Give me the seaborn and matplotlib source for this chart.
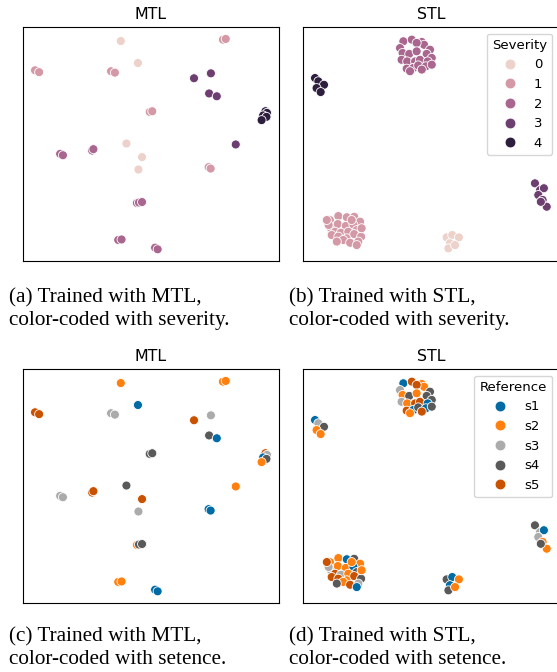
import numpy as np
import pandas as pd
import matplotlib
matplotlib.use("Agg")
import matplotlib.pyplot as plt
import seaborn as sns

plt.rcParams.update({"font.family": "DejaVu Sans", "font.size": 9.5})

# ---- MTL embedding (same points, two colourings) ----
mtl_x = [38.2, 78.1, 79.2, 44.9, 4.7, 6.3, 34.4, 35.9, 66.8, 73.4, 72.7, 75.7,
         49.5, 50.5, 94.7, 95.3, 93.8, 95.1, 93.2, 83.1, 40.4, 27.0, 27.5, 14.5,
         15.6, 46.5, 72.5, 73.3, 45.1, 44.5, 45.3, 46.5, 37.2, 38.5, 51.6, 52.6]
mtl_y = [94.0, 94.6, 94.9, 84.6, 81.5, 80.7, 81.1, 80.5, 78.1, 80.2, 71.6, 70.4,
         63.7, 64.0, 64.0, 63.3, 62.2, 61.6, 60.2, 49.8, 50.2, 47.2, 47.8, 45.8,
         45.2, 44.4, 40.1, 39.5, 39.1, 24.8, 25.0, 25.2, 9.0, 9.2, 5.7, 5.0]
mtl_sev = [0, 1, 1, 0, 1, 1, 1, 1, 3, 3, 3, 3,
           1, 1, 4, 4, 4, 4, 4, 3, 0, 2, 2, 2,
           2, 0, 1, 1, 0, 2, 2, 2, 2, 2, 2, 2]
mtl_ref = ["s2", "s2", "s2", "s1", "s5", "s5", "s3", "s3", "s5", "s3", "s4", "s1",
           "s4", "s4", "s5", "s3", "s1", "s4", "s2", "s2", "s4", "s5", "s5", "s3",
           "s3", "s5", "s1", "s1", "s3", "s2", "s4", "s4", "s2", "s2", "s1", "s1"]

# ---- STL embedding, per cluster ----
stl2_x = [39.2, 42.5, 46.4, 47.3, 37.9, 44.4, 49.6, 38.9, 41.5, 44.4, 48.3, 50.3,
          38.5, 40.7, 43.8, 45.7, 48.7, 40.5, 43.1, 45.0, 48.0, 50.3, 41.8, 46.4]
stl2_y = [93.9, 94.6, 93.6, 92.4, 91.0, 93.2, 90.3, 88.9, 88.5, 89.6, 88.5, 86.8,
          86.0, 85.3, 85.3, 86.0, 85.3, 82.2, 82.5, 83.6, 83.2, 83.9, 81.1, 81.8]
stl2_ref = ["s1", "s5", "s2", "s2", "s3", "s5", "s4", "s2", "s4", "s2", "s4", "s4",
            "s3", "s2", "s5", "s5", "s1", "s5", "s1", "s4", "s1", "s4", "s2", "s5"]

stl4_x = [4.7, 6.0, 8.2, 5.3, 6.9]
stl4_y = [78.2, 76.8, 75.3, 73.9, 72.2]
stl4_ref = ["s1", "s3", "s4", "s2", "s2"]

stl1_x = [10.5, 13.8, 17.1, 20.0, 22.3, 10.9, 13.6, 16.7, 19.7, 12.5, 14.8, 17.7,
          21.0, 11.2, 13.8, 17.1, 20.0, 22.7, 15.7, 18.4, 21.6, 13.2, 10.0, 22.9,
          19.0, 21.0, 9.3]
stl1_y = [17.5, 19.2, 18.7, 18.9, 16.8, 14.0, 15.8, 15.0, 15.4, 12.5, 12.1, 12.5,
          13.2, 11.1, 10.4, 9.7, 11.5, 10.4, 9.0, 7.8, 8.3, 8.3, 15.4, 14.0,
          17.5, 6.8, 17.5]
stl1_ref = ["s2", "s2", "s1", "s4", "s2", "s3", "s2", "s2", "s1", "s5", "s3", "s2",
            "s4", "s5", "s5", "s2", "s5", "s4", "s2", "s5", "s3", "s4", "s3", "s2",
            "s2", "s1", "s5"]

stl0_x = [56.1, 58.3, 60.9, 57.4, 56.8, 59.4]
stl0_y = [10.1, 11.1, 10.1, 7.6, 5.4, 6.8]
stl0_ref = ["s4", "s1", "s2", "s1", "s4", "s2"]

stl3_x = [90.6, 92.6, 94.1, 91.9, 93.6, 95.2, 92.9]
stl3_y = [33.2, 30.3, 31.1, 28.2, 26.1, 23.2, 25.3]
stl3_ref = ["s4", "s3", "s1", "s3", "s2", "s2", "s4"]

ref_levels = ["s1", "s2", "s3", "s4", "s5"]
ref_colors = ["#006BA4", "#FF800E", "#ABABAB", "#595959", "#C85200"]

mtl = pd.DataFrame({"x": mtl_x, "y": mtl_y, "Severity": mtl_sev, "Reference": mtl_ref})
parts = []
for sev, xs, ys, refs in [(2, stl2_x, stl2_y, stl2_ref), (4, stl4_x, stl4_y, stl4_ref),
                          (1, stl1_x, stl1_y, stl1_ref), (0, stl0_x, stl0_y, stl0_ref),
                          (3, stl3_x, stl3_y, stl3_ref)]:
    parts.append(pd.DataFrame({"x": xs, "y": ys, "Severity": sev, "Reference": refs}))
stl = pd.concat(parts, ignore_index=True)

fig = plt.figure(figsize=(5.57, 6.72), dpi=100)
W, H = 557, 672


def box(left, top, w=256, h=234):
    return [left / W, (H - top - h) / H, w / W, h / H]


ax_a = fig.add_axes(box(23, 27))
ax_b = fig.add_axes(box(303, 27))
ax_c = fig.add_axes(box(23, 369))
ax_d = fig.add_axes(box(303, 369))

kw = dict(x="x", y="y", s=42, linewidth=0.6, edgecolor="white")
sns.scatterplot(data=mtl, hue="Severity", hue_norm=(0, 4), legend=False, ax=ax_a, **kw)
sns.scatterplot(data=stl, hue="Severity", hue_norm=(0, 4), legend="full", ax=ax_b, **kw)
sns.scatterplot(data=mtl, hue="Reference", hue_order=ref_levels, palette=ref_colors,
                legend=False, ax=ax_c, **kw)
sns.scatterplot(data=stl, hue="Reference", hue_order=ref_levels, palette=ref_colors,
                legend="full", ax=ax_d, **kw)

for ax, title in [(ax_a, "MTL"), (ax_b, "STL"), (ax_c, "MTL"), (ax_d, "STL")]:
    ax.set_xlim(0, 100)
    ax.set_ylim(0, 100)
    ax.set_xticks([])
    ax.set_yticks([])
    ax.set_xlabel("")
    ax.set_ylabel("")
    ax.set_title(title, fontsize=11.4)

ax_b.legend(title="Severity", loc="upper right", fontsize=9.5, title_fontsize=9.5,
            markerscale=1.2)
ax_d.legend(title="Reference", loc="upper right", fontsize=9.5, title_fontsize=9.5,
            markerscale=1.2)

cap = dict(fontsize=15.3, family="Liberation Serif", va="center", ha="left")
fig.text(9 / W, 1 - 298 / H, "(a) Trained with MTL,", **cap)
fig.text(9 / W, 1 - 321 / H, "color-coded with severity.", **cap)
fig.text(289 / W, 1 - 298 / H, "(b) Trained with STL,", **cap)
fig.text(289 / W, 1 - 321 / H, "color-coded with severity.", **cap)
fig.text(9 / W, 1 - 637 / H, "(c) Trained with MTL,", **cap)
fig.text(9 / W, 1 - 660 / H, "color-coded with setence.", **cap)
fig.text(289 / W, 1 - 637 / H, "(d) Trained with STL,", **cap)
fig.text(289 / W, 1 - 660 / H, "color-coded with setence.", **cap)

fig.savefig("out.png", dpi=100, facecolor="white")
